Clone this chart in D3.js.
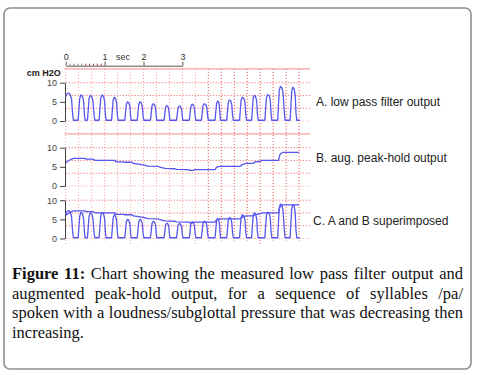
<!DOCTYPE html>
<html>
<head>
<meta charset="utf-8">
<script src="https://cdn.jsdelivr.net/npm/d3@7"></script>
<style>
  body { margin: 0; background: #fff; }
  svg { display: block; }
</style>
</head>
<body>
<svg id="chart" width="478" height="375"></svg>
<script>
// low pass filter output, [seconds, cm H2O]
const lowPass = [
  [0.00, 6.4], [0.03, 7.0], [0.07, 7.3], [0.11, 7.0], [0.15, 5.8], [0.18, 1.5], [0.20, 0.2], [0.31, 0.2],
  [0.32, 0.3], [0.34, 3.0], [0.36, 5.8], [0.39, 6.8], [0.43, 6.5], [0.46, 5.2], [0.48, 1.8], [0.50, 0.2], [0.55, 0.2],
  [0.56, 0.3], [0.58, 3.0], [0.60, 5.8], [0.63, 6.7], [0.67, 6.4], [0.70, 5.3], [0.73, 1.5], [0.75, 0.2], [0.85, 0.2],
  [0.86, 0.3], [0.88, 3.2], [0.90, 5.9], [0.93, 6.8], [0.97, 6.5], [1.00, 5.2], [1.02, 1.6], [1.04, 0.2], [1.17, 0.2],
  [1.18, 0.3], [1.20, 2.8], [1.22, 5.4], [1.25, 6.2], [1.28, 5.9], [1.31, 4.7], [1.33, 1.4], [1.35, 0.2], [1.51, 0.2],
  [1.52, 0.3], [1.54, 2.4], [1.56, 4.4], [1.59, 5.0], [1.62, 4.8], [1.65, 3.8], [1.67, 1.2], [1.68, 0.2], [1.83, 0.2],
  [1.84, 0.3], [1.86, 2.4], [1.88, 4.4], [1.91, 5.0], [1.94, 4.8], [1.97, 3.8], [1.99, 1.2], [2.01, 0.2], [2.17, 0.2],
  [2.18, 0.3], [2.20, 2.2], [2.22, 4.0], [2.25, 4.5], [2.28, 4.3], [2.31, 3.4], [2.33, 1.0], [2.34, 0.2], [2.52, 0.2],
  [2.53, 0.3], [2.55, 2.0], [2.57, 3.6], [2.60, 4.0], [2.63, 3.8], [2.65, 3.0], [2.67, 1.0], [2.68, 0.2], [2.84, 0.2],
  [2.85, 0.3], [2.87, 2.0], [2.89, 3.5], [2.92, 3.9], [2.95, 3.8], [2.98, 3.0], [3.00, 1.0], [3.01, 0.2], [3.17, 0.2],
  [3.18, 0.3], [3.20, 2.2], [3.22, 3.9], [3.25, 4.4], [3.28, 4.2], [3.31, 3.3], [3.33, 1.1], [3.35, 0.2], [3.48, 0.2],
  [3.49, 0.3], [3.51, 2.2], [3.53, 4.0], [3.56, 4.5], [3.60, 4.3], [3.63, 3.4], [3.65, 1.1], [3.67, 0.2], [3.83, 0.2],
  [3.84, 0.3], [3.86, 2.6], [3.88, 4.6], [3.90, 5.2], [3.93, 5.0], [3.95, 4.0], [3.97, 1.3], [3.98, 0.2], [4.13, 0.2],
  [4.14, 0.3], [4.16, 2.7], [4.18, 4.9], [4.21, 5.5], [4.24, 5.3], [4.27, 4.2], [4.29, 1.4], [4.31, 0.2], [4.46, 0.2],
  [4.47, 0.3], [4.49, 3.0], [4.51, 5.5], [4.54, 6.2], [4.58, 5.9], [4.61, 4.8], [4.63, 1.5], [4.65, 0.2], [4.77, 0.2],
  [4.78, 0.3], [4.80, 3.2], [4.82, 6.0], [4.85, 6.7], [4.88, 6.4], [4.91, 5.2], [4.93, 1.6], [4.95, 0.2], [5.11, 0.2],
  [5.12, 0.3], [5.14, 3.3], [5.16, 6.1], [5.19, 6.9], [5.23, 6.6], [5.26, 5.3], [5.28, 1.7], [5.30, 0.2], [5.44, 0.2],
  [5.45, 0.3], [5.47, 4.3], [5.49, 8.0], [5.52, 9.0], [5.56, 8.7], [5.59, 7.0], [5.62, 2.2], [5.64, 0.2], [5.76, 0.2],
  [5.77, 0.3], [5.79, 4.2], [5.81, 7.8], [5.84, 8.8], [5.87, 8.5], [5.90, 6.8], [5.92, 2.1], [5.94, 0.2], [6.02, 0.2]
];

// augmented peak-hold output, [seconds, cm H2O]
const peakHold = [
  [0.01, 6.1], [0.07, 6.6], [0.15, 7.0], [0.20, 7.2], [0.50, 7.2], [0.52, 7.0], [0.71, 7.0], [0.75, 6.7],
  [1.27, 6.7], [1.29, 6.3], [1.48, 6.3], [1.52, 6.2], [1.70, 6.2], [1.74, 5.9], [1.87, 5.7], [1.99, 5.5],
  [2.12, 5.2], [2.38, 5.1], [2.42, 4.9], [2.55, 4.6], [2.81, 4.5], [2.85, 4.35], [3.15, 4.3], [3.20, 4.1],
  [3.28, 4.1], [3.32, 4.3], [3.84, 4.3], [3.88, 4.9], [3.97, 5.1], [4.48, 5.1], [4.55, 5.65], [4.65, 5.9],
  [4.82, 5.9], [4.87, 6.3], [4.99, 6.4], [5.04, 6.7], [5.47, 6.7], [5.51, 8.3], [5.58, 8.8], [6.00, 8.8]
];

const yTicks = [0, 5, 10];
const gridLevels = [0, 3.33, 6.67, 10];
const topLevel = 13.6;
const timeTicks = [0, 1, 2, 3];
const minorTimeTicks = [0.1, 0.2, 0.3, 0.4, 0.5, 0.6, 0.7, 0.8, 0.9];
const panelLabels = ["A. low pass filter output", "B. aug. peak-hold output", "C. A and B superimposed"];

const captionLines = [
  [{t: "Figure", b: true}, {t: "11:", b: true}, "Chart", "showing", "the", "measured", "low", "pass", "filter", "output", "and"],
  ["augmented", "peak-hold", "output,", "for", "a", "sequence", "of", "syllables", "/pa/"],
  ["spoken", "with", "a", "loudness/subglottal", "pressure", "that", "was", "decreasing", "then"],
  ["increasing."]
];

const svg = d3.select("#chart");
const sans = "'Liberation Sans', Arial, sans-serif";
const lineColor = "#5656ee";

// frame
svg.append("rect")
  .attr("x", 4).attr("y", 8).attr("width", 467).attr("height", 361)
  .attr("rx", 6)
  .attr("fill", "none").attr("stroke", "#8e8e8e").attr("stroke-width", 1.6);

const xScale = d3.scaleLinear().domain([0, 6]).range([65.7, 299.1]);
const gridRight = 310;

const panels = [
  {base: 121, top10: 82.7, label: panelLabels[0], lx: 316, ly: 106, series: [lowPass], topLine: true},
  {base: 186, top10: 147.7, label: panelLabels[1], lx: 316, ly: 162, series: [peakHold], topLine: true},
  {base: 238.5, top10: 200.2, label: panelLabels[2], lx: 313, ly: 225, series: [lowPass, peakHold], topLine: false}
];
panels.forEach(function(p) {
  p.y = d3.scaleLinear().domain([0, 10]).range([p.base, p.top10]);
});

// vertical grid, one line every 1/3 s
const gridG = svg.append("g");
const vTop = panels[0].y(topLevel);
const vBottom = panels[2].y(0) + 2;
gridG.selectAll("line.v")
  .data(d3.range(0, 19).map(k => k / 3))
  .enter().append("line")
  .attr("x1", d => xScale(d)).attr("x2", d => xScale(d))
  .attr("y1", vTop)
  .attr("y2", (d, i) => i % 5 === 0 ? vBottom + 5 : vBottom)
  .attr("stroke", (d, i) => i >= 11 ? "#e84a4a" : "#f5a3a3")
  .attr("stroke-width", 1)
  .attr("stroke-dasharray", "1,2");

panels.forEach(function(p) {
  let g = svg.append("g");

  g.selectAll("line.h")
    .data(gridLevels)
    .enter().append("line")
    .attr("x1", xScale(0)).attr("x2", gridRight)
    .attr("y1", d => p.y(d)).attr("y2", d => p.y(d))
    .attr("stroke", d => d === 0 ? "#f5a3a3" : "#ea5a5a")
    .attr("stroke-dasharray", "1,2");

  if (p.topLine) {
    g.append("line")
      .attr("x1", xScale(0) - 1).attr("x2", gridRight)
      .attr("y1", p.y(topLevel)).attr("y2", p.y(topLevel))
      .attr("stroke", "#f58a8a").attr("stroke-width", 1);
  }

  let yAxis = d3.axisLeft(p.y).tickValues(yTicks).tickSize(5).tickSizeOuter(0).tickPadding(3);
  let ax = g.append("g")
    .attr("transform", "translate(" + (xScale(0) - 0.7) + ",0)")
    .call(yAxis);
  ax.select(".domain").attr("stroke", "#444");
  ax.selectAll(".tick line").attr("stroke", "#444");
  ax.selectAll("text").attr("font-family", sans).attr("font-size", 9).attr("fill", "#444");

  p.series.forEach(function(s) {
    g.append("path")
      .datum(s)
      .attr("fill", "none")
      .attr("stroke", lineColor)
      .attr("stroke-width", 1.3)
      .attr("stroke-linejoin", "round")
      .attr("d", d3.line().x(d => xScale(d[0])).y(d => p.y(d[1])));
  });

  g.append("text")
    .attr("x", p.lx).attr("y", p.ly)
    .attr("font-family", sans).attr("font-size", 12).attr("fill", "#222")
    .text(p.label);
});

// time axis on top
const tScale = d3.scaleLinear().domain([0, 3]).range([xScale(0), xScale(3)]);
const tAxisY = 65.7;
let tAx = svg.append("g")
  .attr("transform", "translate(0," + tAxisY + ")")
  .call(d3.axisTop(tScale).tickValues(timeTicks).tickFormat(d3.format("d"))
    .tickSize(4).tickSizeOuter(0).tickPadding(2));
tAx.select(".domain").attr("stroke", "#555");
tAx.selectAll(".tick line").attr("stroke", "#555");
tAx.selectAll("text").attr("font-family", sans).attr("font-size", 9).attr("fill", "#333");

let tMinor = svg.append("g")
  .attr("transform", "translate(0," + tAxisY + ")")
  .call(d3.axisTop(tScale).tickValues(minorTimeTicks).tickSize(2).tickSizeOuter(0).tickFormat(""));
tMinor.select(".domain").remove();
tMinor.selectAll(".tick line").attr("stroke", (d) => d >= 0.5 ? "#b33" : "#777");

svg.append("text")
  .attr("x", tScale(1.47)).attr("y", tAxisY - 6)
  .attr("text-anchor", "middle")
  .attr("font-family", sans).attr("font-size", 9).attr("fill", "#333")
  .text("sec");

svg.append("text")
  .attr("x", 26.7).attr("y", 75.5)
  .attr("font-family", sans).attr("font-size", 9).attr("font-weight", "bold").attr("fill", "#222")
  .text("cm H2O");

// caption, justified line by line
const capLeft = 12, capRight = 463, capTop = 279, capStep = 19.6;
captionLines.forEach(function(words, li) {
  let g = svg.append("g").attr("transform", "translate(0," + (capTop + li * capStep) + ")");
  let items = words.map(w => typeof w === "string" ? {t: w, b: false} : w);
  let texts = items.map(function(w) {
    return g.append("text")
      .attr("font-family", "'Liberation Serif', 'Times New Roman', serif")
      .attr("font-size", 16.5)
      .attr("font-weight", w.b ? "bold" : "normal")
      .attr("fill", "#111")
      .text(w.t);
  });
  let widths = texts.map(t => t.node().getComputedTextLength());
  let total = d3.sum(widths);
  let last = li === captionLines.length - 1;
  let gap = (last || items.length < 2) ? 4.1 : (capRight - capLeft - total) / (items.length - 1);
  let xPos = capLeft;
  texts.forEach(function(t, i) {
    t.attr("x", xPos);
    xPos += widths[i] + gap;
  });
});
</script>
</body>
</html>
